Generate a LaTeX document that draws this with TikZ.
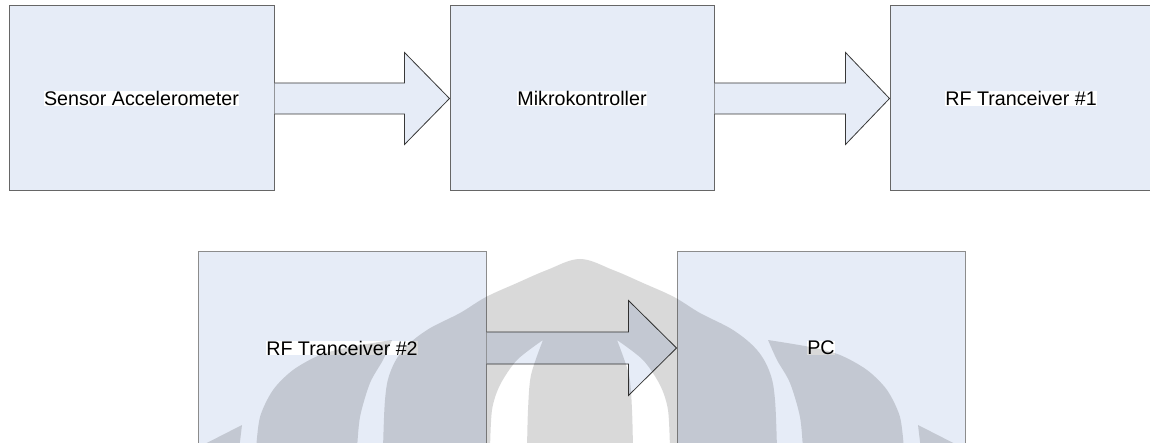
\documentclass[tikz,border=0pt]{standalone}
\usepackage{fontspec}
\setmainfont{Liberation Sans}
\usetikzlibrary{calc}
\definecolor{boxfill}{HTML}{E6ECF7}
\definecolor{boxline}{HTML}{666666}
\definecolor{lowline}{HTML}{8C8C8C}
\definecolor{arrowline}{HTML}{383838}
% white highlight behind each label
\newcommand\hilite[1]{{\setlength{\fboxsep}{0pt}\colorbox{white}{#1}}}
% wide block arrow from the east side of #1 to the west side of #2
% #3 = half shaft width, #4 = half head width, #5 = head length
\newcommand\blockarrow[5]{%
  \draw[flow] ($(#1.east)+(0,-#3)$) -- ($(#2.west)+(-#5,-#3)$)
    -- ($(#2.west)+(-#5,-#4)$) -- (#2.west) -- ($(#2.west)+(-#5,#4)$)
    -- ($(#2.west)+(-#5,#3)$) -- ($(#1.east)+(0,#3)$);}
\begin{document}
\begin{tikzpicture}[x=1pt,y=-1pt,
  block/.style={draw=boxline, fill=boxfill, line width=1pt, rectangle,
    inner sep=0pt, font=\fontsize{19.7}{23}\selectfont},
  lowblock/.style={block, draw=lowline},
  flow/.style={draw=arrowline, fill=boxfill, line width=0.8pt, line join=miter},
  watermark/.style={fill=black, fill opacity=0.15, draw=none}]
\clip (0,0) rectangle (1150,443);
\fill[white] (0,0) rectangle (1150,443);

% top row
\node[block, minimum width=265pt, minimum height=185pt] (sensor) at (141.5,98.5) {\hilite{Sensor Accelerometer}};
\node[block, minimum width=264pt, minimum height=185pt] (mcu) at (582,98.5) {\hilite{Mikrokontroller}};
\node[block, minimum width=262pt, minimum height=185pt] (rf1) at (1021,98.5) {\hilite{RF Tranceiver \#1}};

% bottom row
\node[lowblock, minimum width=288pt, minimum height=192pt] (rf2) at (342,348) {\hilite{RF Tranceiver \#2}};
\node[lowblock, minimum width=288pt, minimum height=192pt] (pc) at (821,348) {\hilite{PC}};

% data flow
\blockarrow{sensor}{mcu}{15.5}{46}{45}
\blockarrow{mcu}{rf1}{15.5}{46}{44}
\blockarrow{rf2}{pc}{16}{47.5}{48}

% faint emblem in the background
\fill[watermark, even odd rule]
  plot[smooth, tension=0.6] coordinates {(383,450) (385,400) (390,373) (403,350) (427,330) (460,313) (486,297) (517,283) (547,270) (580,259) (613,270) (643,283) (674,297) (700,313) (733,330) (757,350) (770,373) (775,400) (777,450)} -- cycle
  plot[smooth] coordinates {(543,340) (517,360) (500,385) (492,410) (490,450)}
    -- plot[smooth] coordinates {(527,450) (528,410) (531,375) (543,340)} -- cycle
  plot[smooth] coordinates {(617,340) (643,360) (660,385) (668,410) (670,450)}
    -- plot[smooth] coordinates {(633,450) (632,410) (629,375) (617,340)} -- cycle;
\fill[watermark]
  plot[smooth] coordinates {(768,340) (810,347) (840,355) (867,370) (887,390) (900,417) (904,450)}
  -- plot[smooth] coordinates {(803,450) (800,417) (790,383) (777,360) (768,340)} -- cycle;
\fill[watermark]
  plot[smooth] coordinates {(392,340) (350,347) (320,355) (293,370) (273,390) (260,417) (256,450)}
  -- plot[smooth] coordinates {(357,450) (360,417) (370,383) (383,360) (392,340)} -- cycle;
\fill[watermark] (918,425) -- (921,450) -- (967,450) -- cycle;
\fill[watermark] (242,425) -- (239,450) -- (193,450) -- cycle;
\end{tikzpicture}
\end{document}
